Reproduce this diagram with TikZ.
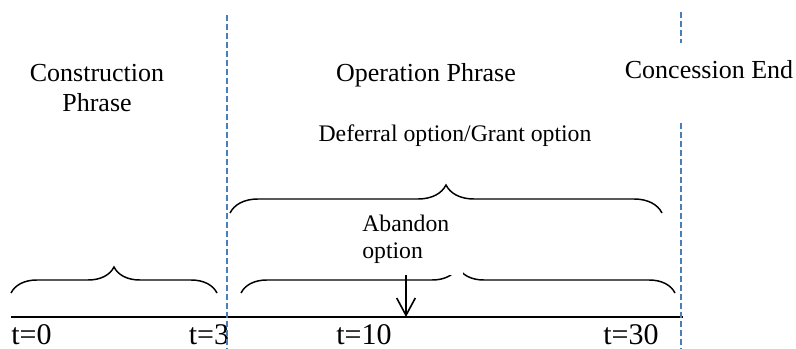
\documentclass[tikz,border=0pt]{standalone}
\usepackage{fontspec}
\setmainfont{Liberation Serif}
\usepackage{xcolor}
\usetikzlibrary{decorations.pathreplacing, arrows.meta}

\definecolor{dashblue}{HTML}{4A7EBB}

\begin{document}
\begin{tikzpicture}[x=0.75pt, y=-0.75pt,
    phase/.style={inner sep=0pt, font=\fontsize{19.5pt}{22.5pt}\selectfont},
    optlabel/.style={inner sep=0pt, font=\fontsize{17.8pt}{20.25pt}\selectfont},
    tlabel/.style={inner sep=0pt, anchor=base, font=\fontsize{22.5pt}{26pt}\selectfont},
    brace/.style={decorate, decoration={brace, amplitude=#1}, line width=1.1pt},
    divider/.style={dashblue, line width=1.1pt, dash pattern=on 4.5pt off 2.25pt}]

    \useasboundingbox (0,0) rectangle (796,349);

    % =================================================================
    % 1. MAIN POINTS
    % =================================================================
    % time axis at y = 317
    \coordinate (start) at (11,317);
    \coordinate (end) at (683,317);
    \coordinate (exercise) at (406,317);

    % phase boundaries
    \coordinate (divA top) at (227,15);
    \coordinate (divA bot) at (227,349);
    \coordinate (divB top) at (681,12);
    \coordinate (divB mid) at (681,43);
    \coordinate (divB low) at (681,123);
    \coordinate (divB bot) at (681,349);

    % =================================================================
    % 2. TIME AXIS AND BRACES
    % =================================================================
    \draw[line width=1.2pt] (start) -- (end);

    % construction phase
    \draw[brace=19.5pt] (11,293) -- (217,293);
    % whole operation phase
    \draw[brace=21pt] (230,213) -- (662,213);
    % abandon option period
    \draw[brace=19.5pt] (241,293) -- (675,293);

    % =================================================================
    % 3. LABELS
    % =================================================================
    \node[phase, align=center, anchor=north] (construction) at (97,64)
        {Construction\\Phrase};
    \node[phase, anchor=base] (operation) at (426,82) {Operation Phrase};
    \node[phase, anchor=base] (concession) at (709,79) {Concession End};
    \node[optlabel, anchor=base] (deferral) at (455,142)
        {Deferral option/Grant option};

    % text box of the abandon option (covers the brace tip)
    \node[optlabel, fill=white, align=left, text width=75.75pt,
          minimum height=52.5pt, anchor=west] (abandon) at (362,239.5)
        {Abandon\\option};

    \draw[line width=1.2pt, -{Straight Barb[length=13pt, width=14pt]}]
        (exercise |- abandon.south) -- (exercise);

    % time points
    \node[tlabel] (t0) at (31.5,344) {t=0};
    \node[tlabel] (t3) at (209,344) {t=3};
    \node[tlabel] (t10) at (364,344) {t=10};
    \node[tlabel] (t30) at (631,344) {t=30};

    % =================================================================
    % 4. DASHED PHASE BOUNDARIES
    % =================================================================
    \draw[divider] (divA top) -- (divA bot);
    \draw[divider] (divB top) -- (divB mid);
    \draw[divider] (divB low) -- (divB bot);

\end{tikzpicture}
\end{document}
